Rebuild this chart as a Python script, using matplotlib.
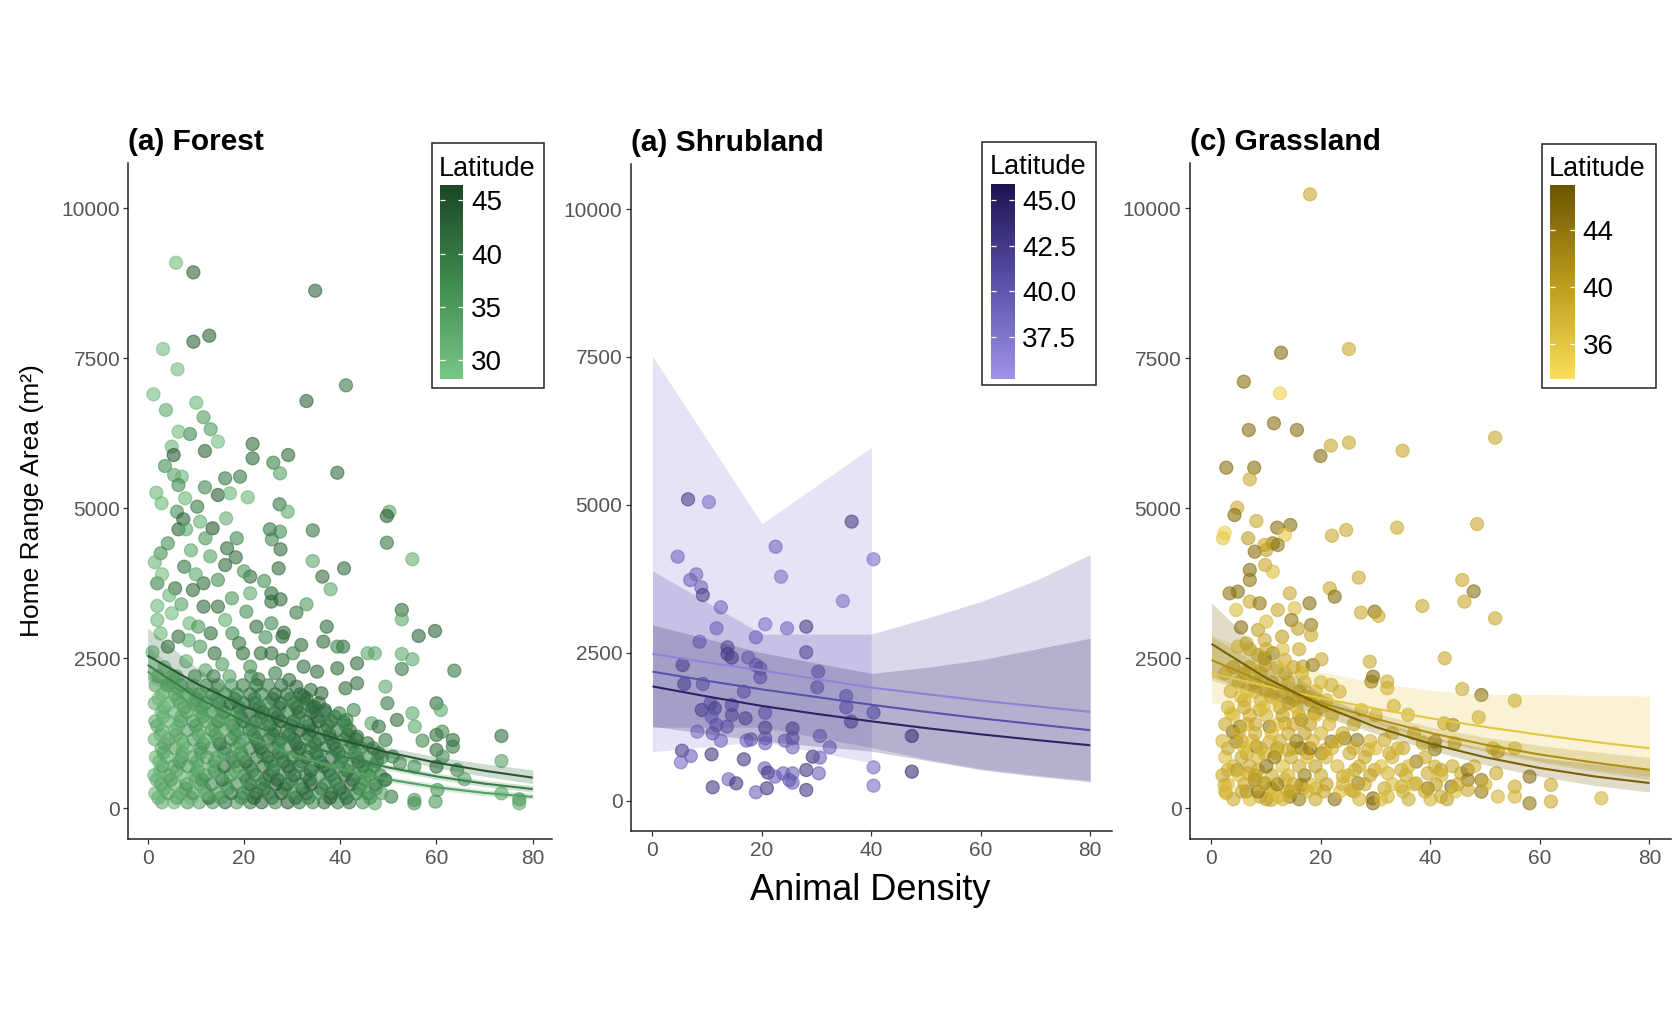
import numpy as np
import matplotlib
matplotlib.use("Agg")
import matplotlib.pyplot as plt
from matplotlib.colors import LinearSegmentedColormap, Normalize
from matplotlib.patches import Rectangle

# ---------------- data ----------------
# Forest: scattered points
forest_density = [5.9, 9.5, 34.8, 12.8, 9.5, 3.2, 6.2, 1.2, 41.2, 33.0, 3.8, 10.1, 11.6, 13.1, 14.6, 8.8, 6.4, 5.0, 5.4, 11.9,
                  21.8, 21.8, 29.2, 26.1, 27.5, 39.4, 3.6, 5.5, 7.1, 6.4, 16.1, 19.2, 11.9, 14.6, 17.1, 20.8, 1.8, 2.9, 7.8, 10.3,
                  6.1, 7.4, 27.4, 29.1, 50.2, 49.7, 13.5, 16.3, 10.9, 25.4, 27.5, 34.3, 25.8, 49.7, 6.4,
                  55.0, 34.3, 40.8, 36.3, 38.0, 52.8, 52.8, 56.3, 59.7, 63.7, 52.8, 52.8, 55.0, 49.4, 49.8, 51.8, 55.0, 55.5,
                  60.0, 60.9, 57.1, 60.0, 61.2, 63.4, 63.4, 60.0, 61.3, 60.0, 64.3, 65.8, 73.5, 73.5, 73.5, 77.2, 77.2, 55.4,
                  55.4, 59.8, 60.2, 50.6, 47.2, 43.5, 43.5, 41.1, 39.4, 40.6, 39.4, 47.2, 45.7, 36.5, 37.2, 35.2, 33.0, 30.9,
                  31.9, 28.3, 28.0, 27.6, 27.2, 24.2, 21.3, 21.3, 25.7, 25.7, 27.6, 25.7, 22.6, 20.5, 16.5, 18.3, 16.1, 14.6,
                  4.2, 2.7, 2.0, 5.7, 7.6, 9.4, 11.6, 11.6, 14.6, 16.1, 17.6, 13.1, 6.4, 4.2, 2.0, 2.7, 2.0, 8.7, 10.5, 10.9,
                  13.9, 19.8, 21.3, 23.5, 25.7, 28.0, 30.2, 29.4, 32.4, 30.9, 33.9, 36.1, 36.8, 32.4, 34.6, 39.8, 42.8, 41.3,
                  46.5, 48.0, 43.5, 45.7, 49.4, 48.0, 50.9, 52.4, 49.4, 55.4,
                  1.5, 3.0, 4.5, 1.0, 3.5, 6.0, 8.0, 5.0, 9.0, 12.0, 7.0, 10.0, 13.0, 4.0, 8.5, 12.0, 15.5, 17.5, 19.0, 23.0,
                  18.5, 20.0, 24.5, 26.5, 8.0]
forest_area = [9093, 8933, 8627, 7877, 7777, 7655, 7317, 6900, 7050, 6788, 6638, 6760, 6517, 6317, 6110, 6238, 6277, 6027, 5888, 5955,
               6072, 5833, 5888, 5760, 5583, 5593, 5705, 5555, 5527, 5388, 5500, 5527, 5350, 5222, 5250, 5183, 5260, 5083, 5167, 5027,
               4943, 4817, 5067, 4943, 4943, 4872, 4667, 4833, 4777, 4650, 4610, 4632, 4483, 4427, 4650,
               4150, 4122, 3999, 3861, 3650, 3305, 3150, 2872, 2955, 2294, 2322, 2572, 2483, 2027, 1750, 1472, 1583, 1361,
               1750, 1638, 1127, 1222, 1277, 1138, 1027, 972, 861, 694, 638, 483, 1205, 788, 249, 149, 83, 138,
               83, 110, 305, 194, 83, 2416, 2083, 2000, 2333, 2694, 2694, 2583, 2583, 2777, 3027, 2277, 3399, 3260,
               2722, 2927, 2861, 4316, 3999, 3788, 3861, 3583, 3583, 3444, 3483, 3083, 3027, 3277, 4333, 4183, 4055, 3805,
               4416, 4250, 3750, 3666, 4027, 3638, 3750, 3361, 3361, 3138, 2916, 2916, 2861, 2694, 3138, 2916, 3372, 3083, 3027, 2694,
               2583, 2583, 2361, 2583, 2583, 2472, 2583, 2138, 2361, 2027, 1972, 1916, 1638, 1861, 1694, 1583, 1638, 1472,
               1416, 1361, 1194, 1083, 1138, 916, 861, 749, 472, 694,
               4100, 3900, 3550, 2600, 2350, 2200, 2450, 3250, 4300, 4500, 3400, 3900, 4200, 2050, 2800, 2300, 2400, 3500, 2750, 2150,
               4500, 3950, 2850, 2250, 4650]
forest_lat = [30, 43, 43, 43, 43, 30, 30, 30, 40, 43, 33, 31, 35, 35, 30, 38, 30, 31, 44, 43,
              42, 42, 42, 39, 34, 42, 37, 34, 31, 37, 40, 40, 38, 44, 31, 31, 31, 31, 31, 40,
              37, 43, 40, 33, 34, 44, 45, 32, 32, 40, 37, 40, 38, 40, 43,
              32, 33, 42, 42, 33, 42, 33, 43, 43, 40, 40, 33, 33, 33, 40, 42, 33, 33,
              42, 33, 38, 42, 38, 42, 40, 42, 37, 42, 38, 34, 42, 34, 33, 37, 33, 36,
              36, 36, 36, 40, 33, 42, 42, 42, 42, 42, 38, 33, 33, 42, 42, 42, 35, 40,
              42, 42, 42, 42, 42, 37, 42, 33, 42, 42, 42, 38, 42, 37, 42, 42, 42, 37,
              37, 37, 39, 42, 40, 42, 42, 42, 42, 32, 37, 42, 42, 42, 31, 31, 31, 31, 36, 36,
              42, 42, 37, 42, 42, 42, 38, 42, 42, 42, 42, 43, 43, 43, 43, 38, 38, 38,
              34, 42, 42, 42, 40, 42, 38, 38, 37, 37,
              31, 30, 31, 31, 30, 31, 32, 30, 33, 36, 34, 33, 34, 31, 33, 34, 35, 36, 40, 40,
              38, 36, 37, 40, 33]

# Forest: dense cloud, one list per row of home-range values
forest_dense_area = [100, 175, 250, 325, 400, 475, 550, 625, 700, 775, 850, 925, 1000, 1075, 1150, 1225, 1300, 1375, 1450,
                     1525, 1600, 1675, 1750, 1825, 1900, 2050, 2200]
forest_dense_density = [
    [3.0, 5.5, 8.3, 10.7, 13.5, 16.1, 18.5, 21.3, 23.7, 26.5, 29.1, 31.5, 34.3, 36.7, 39.5, 41.9, 44.7],
    [2.2, 6.1, 9.0, 12.7, 15.2, 19.5, 22.1, 25.8, 30.7, 33.4, 37.9, 41.3, 46.2],
    [1.6, 4.2, 7.0, 9.4, 12.2, 14.6, 17.4, 19.8, 22.6, 25.0, 27.8, 30.2, 33.0, 35.4, 38.2, 40.6, 43.4, 45.8, 48.6],
    [3.4, 7.9, 11.8, 16.6, 20.9, 24.1, 28.4, 32.2, 36.1, 39.9, 44.0, 47.4],
    [2.8, 5.7, 8.1, 11.0, 13.3, 16.2, 18.4, 21.4, 23.6, 26.6, 28.9, 31.8, 34.0, 37.0, 39.3, 42.2, 44.4, 47.3],
    [1.9, 4.8, 9.9, 11.3, 15.5, 20.6, 24.4, 27.0, 29.9, 33.7, 38.8, 42.6, 45.1, 49.3],
    [1.4, 4.4, 6.8, 9.7, 12.0, 14.9, 17.2, 20.1, 22.4, 25.3, 27.6, 30.5, 32.8, 35.7, 38.0, 40.9, 43.2, 46.1, 48.3],
    [2.6, 6.0, 10.4, 13.9, 18.0, 21.8, 26.0, 29.6, 33.9, 37.6, 41.5, 45.4],
    [3.1, 5.4, 8.4, 10.6, 13.6, 15.9, 18.8, 21.1, 24.0, 26.3, 29.2, 31.4, 34.4, 36.6, 39.6, 41.8, 44.8, 47.0],
    [2.4, 6.6, 10.2, 14.0, 17.9, 20.4, 25.5, 28.2, 32.0, 35.9, 40.1, 43.8, 47.6],
    [1.7, 4.1, 7.1, 9.3, 12.3, 14.5, 17.5, 19.7, 22.7, 24.9, 27.9, 30.1, 33.1, 35.3, 38.3, 40.5, 43.5, 45.7, 48.7],
    [3.3, 7.2, 11.0, 15.8, 19.4, 23.9, 27.3, 31.2, 35.0, 39.7, 43.1],
    [2.9, 5.8, 8.0, 10.9, 13.2, 16.1, 18.3, 21.2, 23.5, 26.4, 28.7, 31.6, 33.9, 36.8, 39.1, 42.0, 44.3, 46.9],
    [3.6, 7.4, 11.5, 15.0, 19.1, 23.0, 27.2, 30.9, 34.8, 38.6, 42.5],
    [1.5, 4.3, 6.9, 9.6, 12.1, 14.8, 17.3, 20.0, 22.5, 25.2, 27.7, 30.4, 32.9, 35.6, 38.1, 40.8, 43.3],
    [2.7, 5.9, 10.6, 14.1, 18.2, 22.0, 26.1, 29.4, 33.5, 37.8, 41.6],
    [3.0, 5.6, 8.2, 10.8, 13.4, 16.0, 18.6, 21.2, 23.8, 26.4, 29.0, 31.6, 34.2, 36.8, 39.4, 42.0],
    [2.0, 6.3, 10.0, 13.8, 17.7, 21.6, 25.4, 29.8, 33.6, 37.3, 41.2],
    [1.6, 4.3, 6.9, 9.5, 12.1, 14.7, 17.3, 19.9, 22.5, 25.1, 27.7, 30.3, 32.9, 35.5, 38.1, 40.7],
    [3.2, 7.0, 11.4, 15.6, 19.3, 23.6, 27.0, 31.4, 35.2, 38.9],
    [2.9, 5.5, 8.1, 10.9, 13.3, 15.9, 18.7, 21.1, 23.9, 26.3, 29.1, 31.5, 34.1, 36.9],
    [3.4, 7.6, 11.2, 15.3, 19.0, 23.3, 27.4, 31.0, 34.2],
    [1.5, 4.4, 6.8, 9.6, 12.0, 14.8, 17.2, 20.0, 22.4, 25.2, 27.6, 30.4, 32.8, 35.6],
    [2.3, 6.2, 10.1, 14.4, 18.1, 22.2, 26.0, 29.7, 33.0],
    [3.1, 5.7, 8.3, 10.7, 13.5, 16.1, 18.5, 21.3, 23.7, 26.5, 28.9, 31.7],
    [1.7, 4.2, 7.0, 9.4, 12.2, 14.6, 17.4, 19.8, 22.6, 25.0, 27.8],
    [2.1, 5.2, 9.8, 13.7, 17.0, 21.5],
]
forest_dense_lat = [
    [33, 31, 35, 34, 36, 42, 35, 40, 43, 38, 44, 40, 37, 42, 39, 41, 36],
    [32, 34, 31, 42, 35, 38, 43, 40, 42, 39, 44, 41, 37],
    [31, 34, 33, 36, 32, 35, 41, 37, 42, 39, 43, 38, 41, 36, 42, 40, 38, 37, 34],
    [32, 34, 33, 35, 38, 41, 39, 42, 40, 43, 38, 36],
    [34, 32, 36, 33, 38, 34, 37, 42, 39, 44, 41, 37, 43, 40, 38, 42, 36, 39],
    [33, 35, 32, 36, 42, 36, 40, 44, 39, 42, 38, 41, 37, 40],
    [32, 35, 31, 34, 37, 33, 36, 40, 38, 42, 39, 43, 41, 37, 40, 42, 38, 36, 40],
    [31, 33, 34, 36, 33, 39, 41, 38, 43, 40, 42, 37],
    [35, 33, 36, 32, 34, 42, 35, 38, 41, 37, 43, 40, 38, 42, 39, 37, 41, 38],
    [31, 36, 33, 35, 37, 43, 39, 42, 40, 44, 38, 42, 39],
    [31, 33, 35, 34, 36, 33, 38, 36, 40, 42, 38, 41, 44, 39, 41, 38, 40, 37, 39],
    [33, 32, 34, 36, 35, 39, 42, 38, 41, 40, 38],
    [33, 35, 32, 36, 34, 37, 35, 39, 42, 40, 37, 43, 40, 38, 41, 39, 36, 40],
    [34, 32, 36, 42, 35, 41, 38, 43, 40, 42, 37],
    [32, 34, 31, 35, 33, 36, 38, 35, 40, 43, 39, 41, 38, 42, 40, 37, 41],
    [31, 34, 33, 35, 37, 40, 38, 42, 39, 41, 40],
    [31, 33, 35, 32, 36, 34, 37, 40, 38, 42, 39, 43, 41, 38, 40, 42],
    [33, 31, 35, 34, 38, 36, 42, 39, 43, 40, 38],
    [33, 31, 34, 36, 33, 38, 35, 41, 39, 37, 42, 40, 38, 43, 41, 39],
    [32, 33, 35, 34, 37, 39, 41, 38, 42, 40],
    [31, 32, 34, 33, 35, 37, 36, 40, 38, 42, 39, 41, 43, 40],
    [32, 34, 36, 33, 37, 40, 38, 42, 41],
    [32, 31, 33, 35, 34, 36, 42, 37, 40, 38, 43, 41, 39, 42],
    [31, 33, 34, 32, 36, 38, 40, 39, 42],
    [31, 33, 32, 34, 36, 35, 38, 41, 39, 43, 40, 42],
    [31, 32, 34, 33, 35, 37, 36, 40, 42, 39, 41],
    [31, 32, 36, 40, 34, 38],
]

# Forest fitted curves (three latitude levels) with confidence bands
fit_density = [0, 10, 20, 30, 40, 50, 60, 70, 80]
forest_line_lat = [44, 39, 34]
forest_line_high = [2545, 2085, 1700, 1390, 1140, 930, 760, 625, 510]
forest_band_high_upper = [3005, 2355, 1855, 1485, 1220, 1015, 860, 740, 640]
forest_band_high_lower = [2155, 1845, 1560, 1300, 1065, 855, 675, 530, 410]
forest_line_mid = [2390, 1860, 1445, 1125, 875, 680, 530, 410, 320]
forest_band_mid_upper = [2700, 2025, 1530, 1180, 920, 730, 585, 465, 380]
forest_band_mid_lower = [2115, 1705, 1365, 1070, 835, 635, 480, 360, 270]
forest_line_low = [2280, 1665, 1220, 895, 655, 480, 350, 255, 190]
forest_band_low_upper = [2620, 1830, 1305, 950, 700, 530, 405, 310, 245]
forest_band_low_lower = [1985, 1515, 1140, 845, 610, 435, 305, 210, 150]

# Shrubland points
shrub_density = [6.5, 10.3, 36.4, 22.5, 40.4, 4.6, 23.5, 8.0, 6.9, 8.9, 9.2, 34.8, 12.5, 11.7, 20.6, 24.6, 28.1, 18.9, 8.6, 28.1,
                 13.7, 13.7, 14.5, 17.5, 18.9, 19.7, 19.7, 5.5, 5.8, 9.2, 30.3, 30.1, 16.7, 35.4, 35.4, 36.3, 40.4, 47.4, 47.4, 40.4,
                 40.4, 9.0, 10.6, 11.4, 14.5, 14.5, 17.0, 20.6, 10.8, 11.7, 13.6, 8.2, 11.0, 12.5, 20.6, 20.6, 20.6, 18.0, 17.2, 25.6,
                 25.6, 25.6, 24.2, 30.6, 32.4, 5.4, 7.0, 5.2, 10.8, 16.7, 29.3, 30.6, 20.5, 21.1, 22.4, 23.9, 25.6, 25.0, 25.6, 28.1,
                 30.4, 28.1, 20.9, 18.9, 13.9, 15.3, 11.0]
shrub_area = [5093, 5047, 4715, 4292, 4079, 4123, 3785, 3825, 3729, 3605, 3475, 3374, 3267, 2912, 2980, 2912, 2940, 2760, 2686, 2507,
              2591, 2478, 2416, 2416, 2292, 2236, 2084, 2292, 1971, 1971, 2179, 1915, 1841, 1768, 1577, 1334, 1486, 1092, 489, 562,
              252, 1531, 1645, 1560, 1616, 1447, 1391, 1486, 1418, 1278, 1249, 1165, 1137, 1013, 1233, 1053, 970, 1034, 1013, 1220,
              1053, 900, 1013, 1092, 900, 844, 754, 647, 782, 698, 742, 726, 546, 472, 405, 461, 461, 348, 303, 517,
              461, 179, 208, 140, 360, 292, 225]
shrub_lat = [44, 38.5, 44, 39.5, 38.5, 39.5, 38.5, 39.5, 40, 39.5, 44, 38.5, 39.5, 39.5, 38.5, 39.5, 44, 39.5, 39.5, 43,
             43, 44, 43, 38.5, 39.5, 40.5, 40.5, 43, 43, 40, 40.5, 40.5, 40.5, 40, 40.5, 43, 40.5, 44, 44, 38.5,
             38.5, 43, 40.5, 43, 41, 42, 43, 40.5, 39.5, 40, 40.5, 38.5, 41, 39.5, 43, 40.5, 39.5, 41, 39.5, 43,
             41, 39.5, 39.5, 39.5, 39.5, 43, 39.5, 38.5, 43, 43, 44, 39.5, 39.5, 43, 39.5, 39.5, 39.5, 40.5, 39.5, 43,
             39.5, 43, 43, 39.5, 39.5, 43, 43]

shrub_line_lat = [44.5, 40.5, 36.5]
shrub_line_high = [1930, 1760, 1600, 1465, 1340, 1225, 1120, 1025, 935]
shrub_line_mid = [2180, 2025, 1880, 1750, 1620, 1500, 1390, 1290, 1190]
shrub_line_low = [2480, 2335, 2200, 2055, 1910, 1800, 1690, 1595, 1500]
shrub_band_low_density = [0, 20, 40]
shrub_band_low_upper = [7515, 4680, 5970]
shrub_band_low_lower = [825, 1000, 640]
shrub_band_density = [0, 20, 40, 50, 60, 70, 80]
shrub_band_mid_upper = [3886, 2816, 2816, 3080, 3362, 3720, 4160]
shrub_band_mid_lower = [1240, 1240, 900, 700, 540, 430, 340]
shrub_band_high_upper = [2968, 2500, 2151, 2250, 2380, 2560, 2744]
shrub_band_high_lower = [1255, 1005, 835, 680, 520, 410, 318]

# Grassland points
grass_density = [18.0, 12.7, 25.1, 5.9, 12.5, 11.4, 6.8, 15.6, 21.8, 25.1, 19.9, 34.9, 51.8, 2.7, 7.8, 7.0, 4.7, 4.2, 8.2, 12.0,
                 14.4, 13.4, 2.4, 2.1, 22.0, 24.6, 33.9, 48.5, 6.7, 11.2, 9.7,
                 7.9, 10.0, 12.1, 7.0, 9.8, 11.2, 7.0, 3.3, 4.8, 14.3, 4.5, 7.0, 8.8, 12.1, 15.2, 17.9, 21.6, 22.5, 26.9,
                 27.3, 29.8, 30.5, 38.5, 45.8, 47.9, 46.2, 51.8, 5.4, 8.5, 10.0, 14.6, 15.8, 18.2, 18.2, 4.8, 6.4, 9.7, 12.9, 11.2,
                 9.7, 8.5, 9.8, 13.4, 16.7, 18.5, 20.1, 28.9, 42.6, 29.5, 29.2, 32.1, 32.1, 21.9, 23.4, 5.4, 7.9, 8.8, 10.9, 14.0,
                 17.0, 18.8, 3.6, 5.2, 10.6, 13.4, 16.4, 27.4, 33.3, 35.9, 44.1, 48.8, 49.3, 45.8, 55.4, 42.5, 40.8, 40.8, 38.6, 44.4,
                 51.4, 52.3, 55.4, 3.0, 4.7, 3.9, 4.5, 10.6, 6.4, 8.2, 9.7, 11.8, 14.0, 16.4, 17.6, 20.1, 20.7, 21.9, 24.3, 26.6,
                 25.2, 28.6, 31.6, 32.5, 35.0, 37.4, 34.7, 32.2, 29.8, 26.2, 24.0, 26.8, 25.5, 29.5, 29.5, 31.6, 32.2, 34.7, 37.4, 39.5,
                 39.5, 40.8, 41.9, 41.9, 43.8, 45.6, 46.8, 46.8, 46.8, 49.3, 49.3, 52.0, 52.3, 55.4, 55.4, 58.1, 58.1, 62.0, 62.0, 71.2,
                 22.5, 16.7, 14.3, 13.4, 16.4, 19.1, 10.9, 9.7, 7.9, 6.4, 6.7, 8.5, 2.4, 2.7, 8.8, 10.9, 12.1, 14.0]
grass_area = [10233, 7593, 7655, 7110, 6917, 6417, 6305, 6305, 6044, 6094, 5872, 5961, 6177, 5677, 5677, 5483, 5010, 4888, 4788, 4677,
              4722, 4555, 4593, 4500, 4543, 4638, 4677, 4738, 4500, 4417, 4390,
              4277, 4305, 4388, 3972, 4055, 3944, 3805, 3583, 3611, 3583, 3305, 3444, 3416, 3305, 3333, 3416, 3666, 3527, 3844,
              3261, 3277, 3205, 3372, 3805, 3616, 3444, 3166, 3016, 2972, 3111, 3138, 2994, 3055, 2888, 2694, 2749, 2805, 2860, 2583,
              2500, 2555, 2388, 2472, 2361, 2388, 2483, 2444, 2500, 2194, 2111, 2111, 2000, 2055, 1944, 1860, 1944, 1638, 1860, 1750,
              1860, 1583, 1583, 1360, 1360, 1416, 1472, 1638, 1705, 1555, 1388, 1516, 1888, 1988, 1794, 1416, 1111, 983, 1083, 1083,
              1000, 944, 1000, 638, 638, 1277, 1111, 1111, 916, 1027, 916, 916, 972, 1000, 916, 916, 972, 1111, 1166, 1138,
              916, 972, 1138, 916, 1000, 777, 638, 583, 638, 638, 527, 416, 305, 166, 83, 333, 194, 361, 416, 583,
              333, 694, 638, 194, 361, 583, 638, 472, 305, 472, 277, 583, 194, 361, 194, 527, 83, 388, 111, 166,
              150, 333, 194, 472, 388, 333, 333, 416, 472, 277, 583, 638, 388, 250, 194, 138, 194, 277]
grass_lat = [39, 45, 39, 45, 35, 45, 45, 45, 39, 39, 45, 39, 39, 45, 45, 39, 39, 45, 39, 45,
             45, 36, 35, 36, 39, 39, 39, 39, 40, 44, 39,
             45, 40, 44, 45, 39, 37, 44, 44, 45, 39, 37, 39, 44, 39, 37, 45, 39, 45, 39,
             39, 45, 39, 39, 39, 45, 39, 39, 45, 40, 37, 44, 40, 44, 39, 36, 39, 39, 40, 44,
             45, 39, 39, 39, 40, 44, 39, 39, 39, 45, 44, 39, 39, 39, 39, 37, 39, 39, 40, 44,
             40, 44, 36, 44, 45, 39, 44, 39, 39, 39, 44, 39, 45, 39, 39, 40, 44, 44, 39, 39,
             39, 40, 38, 39, 44, 45, 44, 39, 39, 44, 39, 36, 39, 45, 40, 44, 39, 44, 44, 44,
             39, 39, 39, 39, 39, 44, 39, 38, 39, 39, 39, 44, 39, 45, 45, 39, 38, 39, 39, 39,
             44, 39, 40, 39, 45, 39, 44, 44, 39, 44, 44, 39, 38, 39, 38, 45, 44, 39, 39, 38,
             45, 39, 44, 39, 44, 39, 40, 44, 45, 44, 39, 39, 39, 37, 39, 39, 37, 39]

# Grassland: dense cloud, one list per row of home-range values
grass_dense_area = [150, 280, 400, 550, 700, 850, 1000, 1120, 1250, 1400, 1550, 1680, 1800, 1950, 2100, 2250, 2350, 2650]
grass_dense_density = [
    [4, 7, 10, 13, 16, 19, 27, 31, 36, 40, 43],
    [2.5, 5.5, 8.5, 11.5, 14.5, 17.5, 20.5, 23.5, 26.0, 35.0, 39.0, 44.5],
    [3, 6, 9, 12, 15, 18, 21, 24, 28, 33, 37, 41, 45, 50],
    [2.0, 5.0, 8.0, 11.0, 14.0, 17.0, 20.0, 25.0, 29.0, 35.5, 42.0],
    [4, 7, 10, 13, 16, 19, 23, 27, 31, 36, 44, 48],
    [2.5, 5.5, 8.5, 11.5, 14.5, 17.5, 21.0, 28.0, 33.0, 39.0],
    [3, 6, 9, 12, 15, 18, 22, 26, 30, 34],
    [2.0, 5.5, 7.5, 12.5, 15.5, 18.5, 23.0, 29.0],
    [5, 8, 11, 14, 17, 20, 24, 33, 37],
    [2.5, 6.5, 8.0, 12.0, 15.0, 18.0, 21.5, 26.0],
    [4, 7, 10, 13, 16, 19, 22, 30],
    [3.0, 6.0, 9.5, 12.5, 15.5, 20.0],
    [6, 9, 12, 15, 18, 21],
    [3.5, 6.5, 10.0, 13.0, 16.0, 19.0],
    [5, 8, 11, 14, 17, 20],
    [2.5, 6.0, 9.0, 13.5, 16.5],
    [4, 7, 12, 15],
    [7, 10, 13, 16],
]
grass_dense_lat = [
    [39, 37, 40, 38, 44, 39, 38, 37, 39, 38, 40],
    [38, 39, 44, 37, 40, 38, 39, 37, 39, 38, 39, 37],
    [37, 39, 38, 44, 39, 37, 40, 38, 39, 37, 38, 40, 39, 38],
    [39, 37, 40, 39, 38, 44, 39, 38, 40, 39, 38],
    [38, 39, 45, 37, 39, 40, 38, 39, 37, 38, 39, 38],
    [37, 39, 38, 44, 39, 37, 38, 39, 38, 39],
    [39, 37, 38, 40, 39, 44, 38, 39, 37, 38],
    [38, 39, 37, 39, 44, 38, 39, 38],
    [38, 39, 37, 39, 40, 38, 39, 38, 39],
    [39, 38, 39, 37, 39, 40, 38, 39],
    [37, 39, 38, 40, 39, 37, 38, 39],
    [38, 39, 37, 40, 38, 39],
    [39, 38, 37, 39, 40, 38],
    [39, 37, 38, 39, 40, 38],
    [38, 40, 39, 37, 39, 38],
    [37, 39, 38, 39, 38],
    [39, 37, 38, 40],
    [38, 39, 37, 39],
]

grass_line_lat = [46, 41.5, 36]
grass_line_high = [2740, 2170, 1715, 1355, 1075, 850, 670, 530, 420]
grass_band_high_upper = [3425, 2540, 1905, 1475, 1195, 995, 845, 735, 650]
grass_band_high_lower = [2190, 1855, 1545, 1245, 970, 725, 530, 380, 270]
grass_line_mid = [2470, 2085, 1760, 1490, 1255, 1060, 895, 760, 640]
grass_band_mid_upper = [2865, 2315, 1885, 1580, 1355, 1185, 1045, 940, 845]
grass_band_mid_lower = [2130, 1880, 1645, 1405, 1160, 945, 765, 615, 485]
grass_line_low = [2250, 2035, 1835, 1660, 1500, 1355, 1225, 1105, 1000]
grass_band_low_upper = [2880, 2545, 2275, 2090, 1965, 1895, 1900, 1880, 1870]
grass_band_low_lower = [1760, 1630, 1480, 1315, 1145, 970, 790, 650, 535]

x_ticks = [0, 20, 40, 60, 80]
y_ticks = [0, 2500, 5000, 7500, 10000]
forest_legend_ticks = [30, 35, 40, 45]
shrub_legend_ticks = [37.5, 40.0, 42.5, 45.0]
grass_legend_ticks = [36, 40, 44]

# ---------------- style ----------------
plt.rcParams['font.family'] = ['Liberation Sans', 'DejaVu Sans']

W, H = 1674, 1034
fig = plt.figure(figsize=(W / 100, H / 100), dpi=100)
fig.patch.set_facecolor('white')


def rect(l, t, r, b):
    return [l / W, 1 - b / H, (r - l) / W, (b - t) / H]


forest_cmap = LinearSegmentedColormap.from_list('forest', ['#7ac685', '#3f8a4f', '#1b4725'])
shrub_cmap = LinearSegmentedColormap.from_list('shrub', ['#9e93e8', '#5b50a8', '#1b134f'])
grass_cmap = LinearSegmentedColormap.from_list('grass', ['#fbdf58', '#bb9a1c', '#6a5500'])
forest_norm = Normalize(28.2, 46.5)
shrub_norm = Normalize(35.2, 45.9)
grass_norm = Normalize(33.5, 47.2)

TICK_GRAY = '#555555'


def style_axes(ax, title):
    ax.set_xlim(-4, 84)
    ax.set_ylim(-512.5, 10762.5)
    ax.set_xticks(x_ticks)
    ax.set_yticks(y_ticks)
    ax.set_xticklabels([str(v) for v in x_ticks])
    ax.set_yticklabels([str(v) for v in y_ticks])
    for s in ['top', 'right']:
        ax.spines[s].set_visible(False)
    for s in ['left', 'bottom']:
        ax.spines[s].set_color('#222222')
        ax.spines[s].set_linewidth(1.1)
    ax.tick_params(axis='both', length=3.9, width=0.9, color='#333333',
                   labelcolor=TICK_GRAY, labelsize=15)
    ax.tick_params(axis='y', pad=2)
    ax.tick_params(axis='x', pad=3.5)
    ax.set_title(title, loc='left', fontsize=21.5, fontweight='bold', pad=9)


def draw_points(ax, xs, ys, lats, cmap, norm):
    ax.scatter(xs, ys, c=lats, cmap=cmap, norm=norm, s=88, alpha=0.58,
               edgecolors='face', linewidths=0.9, zorder=2)


def draw_fit(ax, bx, lo, hi, lx, line, lat, cmap, norm):
    col = cmap(norm(lat))
    if bx is not None:
        ax.fill_between(bx, lo, hi, color=col, alpha=0.22, lw=0, zorder=3)
    if lx is not None:
        ax.plot(lx, line, color=col, lw=1.5, zorder=4, solid_capstyle='butt')


def legend(box, cbar, title_xy, cmap, norm, ticks, labels):
    l, t, r, b = box
    fig.add_artist(Rectangle((l / W, 1 - b / H), (r - l) / W, (b - t) / H,
                             transform=fig.transFigure, fill=False,
                             ec='#222222', lw=1.1))
    fig.text(title_xy[0] / W, 1 - title_xy[1] / H, 'Latitude', fontsize=19.5,
             va='baseline', ha='left', color='black')
    cax = fig.add_axes(rect(*cbar))
    vmin, vmax = norm.vmin, norm.vmax
    grad = np.linspace(vmin, vmax, 256).reshape(-1, 1)
    cax.imshow(grad, aspect='auto', cmap=cmap, norm=norm, origin='lower',
               extent=[0, 1, vmin, vmax], interpolation='bilinear')
    cax.set_xlim(0, 1)
    cax.set_ylim(vmin, vmax)
    cax.set_xticks([])
    cax.set_yticks(ticks)
    cax.set_yticklabels(labels)
    cax.tick_params(axis='y', direction='in', length=3.5, width=0.9,
                    color='white', labelcolor='black', labelsize=20, pad=5.6,
                    left=True, right=True, labelleft=False, labelright=True)
    for s in cax.spines.values():
        s.set_visible(False)


# ---------------- Forest ----------------
ax1 = fig.add_axes(rect(128.4, 162.6, 552.0, 839.0))
fx = list(forest_density)
fy = list(forest_area)
fl = list(forest_lat)
for yv, xrow, lrow in zip(forest_dense_area, forest_dense_density, forest_dense_lat):
    fx.extend(xrow)
    fy.extend([yv] * len(xrow))
    fl.extend(lrow)
draw_points(ax1, fx, fy, fl, forest_cmap, forest_norm)
draw_fit(ax1, fit_density, forest_band_high_lower, forest_band_high_upper, fit_density, forest_line_high,
         forest_line_lat[0], forest_cmap, forest_norm)
draw_fit(ax1, fit_density, forest_band_mid_lower, forest_band_mid_upper, fit_density, forest_line_mid,
         forest_line_lat[1], forest_cmap, forest_norm)
draw_fit(ax1, fit_density, forest_band_low_lower, forest_band_low_upper, fit_density, forest_line_low,
         forest_line_lat[2], forest_cmap, forest_norm)
style_axes(ax1, '(a) Forest')

# ---------------- Shrubland ----------------
ax2 = fig.add_axes(rect(630.6, 163.9, 1112.1, 830.9))
draw_points(ax2, shrub_density, shrub_area, shrub_lat, shrub_cmap, shrub_norm)
draw_fit(ax2, shrub_band_low_density, shrub_band_low_lower, shrub_band_low_upper, None, None,
         shrub_line_lat[2], shrub_cmap, shrub_norm)
draw_fit(ax2, shrub_band_density, shrub_band_mid_lower, shrub_band_mid_upper, None, None,
         shrub_line_lat[1], shrub_cmap, shrub_norm)
draw_fit(ax2, shrub_band_density, shrub_band_high_lower, shrub_band_high_upper, None, None,
         shrub_line_lat[0], shrub_cmap, shrub_norm)
draw_fit(ax2, None, None, None, fit_density, shrub_line_low, shrub_line_lat[2], shrub_cmap, shrub_norm)
draw_fit(ax2, None, None, None, fit_density, shrub_line_mid, shrub_line_lat[1], shrub_cmap, shrub_norm)
draw_fit(ax2, None, None, None, fit_density, shrub_line_high, shrub_line_lat[0], shrub_cmap, shrub_norm)
style_axes(ax2, '(a) Shrubland')

# ---------------- Grassland ----------------
ax3 = fig.add_axes(rect(1189.6, 162.6, 1671.4, 839.0))
gx = list(grass_density)
gy = list(grass_area)
gl = list(grass_lat)
for yv, xrow, lrow in zip(grass_dense_area, grass_dense_density, grass_dense_lat):
    gx.extend(xrow)
    gy.extend([yv] * len(xrow))
    gl.extend(lrow)
draw_points(ax3, gx, gy, gl, grass_cmap, grass_norm)
draw_fit(ax3, fit_density, grass_band_low_lower, grass_band_low_upper, fit_density, grass_line_low,
         grass_line_lat[2], grass_cmap, grass_norm)
draw_fit(ax3, fit_density, grass_band_mid_lower, grass_band_mid_upper, fit_density, grass_line_mid,
         grass_line_lat[1], grass_cmap, grass_norm)
draw_fit(ax3, fit_density, grass_band_high_lower, grass_band_high_upper, fit_density, grass_line_high,
         grass_line_lat[0], grass_cmap, grass_norm)
style_axes(ax3, '(c) Grassland')

# ---------------- legends ----------------
legend((432.4, 143, 544.5, 387.5), (440.2, 184.5, 463.2, 379.5), (438.8, 175.5),
       forest_cmap, forest_norm, forest_legend_ticks, [str(v) for v in forest_legend_ticks])
legend((982.2, 142, 1096.4, 385.4), (990.7, 183.6, 1014.2, 379.0), (989.5, 174.5),
       shrub_cmap, shrub_norm, shrub_legend_ticks, ['%.1f' % v for v in shrub_legend_ticks])
legend((1541.6, 144, 1655.8, 387.5), (1550.0, 184.7, 1574.7, 379.0), (1549.0, 176.0),
       grass_cmap, grass_norm, grass_legend_ticks, [str(v) for v in grass_legend_ticks])

# ---------------- axis labels ----------------
fig.text(32 / W, 1 - 501 / H, 'Home Range Area (m²)', rotation=90, va='center', ha='center',
         fontsize=19, color='black')
fig.text(870.6 / W, 1 - 900 / H, 'Animal Density', ha='center', va='baseline',
         fontsize=26, color='black')

fig.savefig('out.png', dpi=100, facecolor='white')
